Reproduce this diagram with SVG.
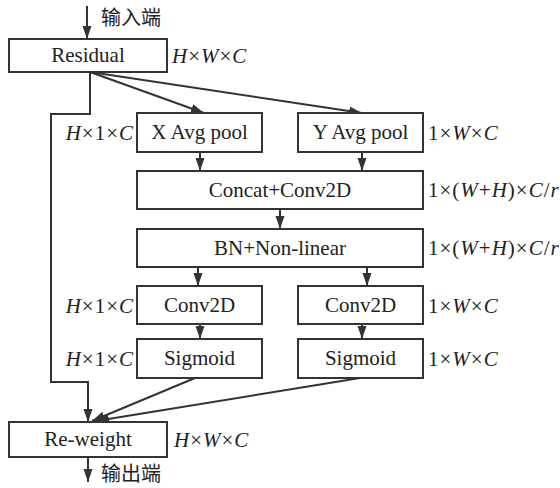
<svg xmlns="http://www.w3.org/2000/svg" width="560" height="488" viewBox="0 0 560 488">
<defs>
<marker id="ah" markerUnits="userSpaceOnUse" markerWidth="14" markerHeight="10" refX="13" refY="5" orient="auto">
<path d="M0,0.5 L13,5 L0,9.5 Z" fill="#333"/>
</marker>
<style>
.box{fill:#fff;stroke:#333;stroke-width:2}
.t{font-family:"Liberation Serif","Times New Roman",serif;font-size:21px;fill:#222}
.l{letter-spacing:1px}
.c{text-anchor:middle}
.e{text-anchor:end}
.i{font-style:italic}
.zh{font-family:"Noto Sans CJK SC","Noto Sans",sans-serif;font-size:20px;fill:#222}
.ln{fill:none;stroke:#333;stroke-width:2}
</style>
</defs>
<rect width="560" height="488" fill="#fff"/>
<g id="connectors">
<line class="ln" x1="87" y1="6" x2="87" y2="39" marker-end="url(#ah)"/>
<polyline class="ln" points="90,72 90,114 51,114 51,382 88,382 88,422" marker-end="url(#ah)"/>
<line class="ln" x1="90" y1="72" x2="204" y2="113" marker-end="url(#ah)"/>
<line class="ln" x1="90" y1="72" x2="362" y2="113" marker-end="url(#ah)"/>
<line class="ln" x1="200" y1="152" x2="200" y2="171" marker-end="url(#ah)"/>
<line class="ln" x1="362" y1="152" x2="362" y2="171" marker-end="url(#ah)"/>
<line class="ln" x1="280" y1="209" x2="280" y2="229" marker-end="url(#ah)"/>
<line class="ln" x1="198" y1="267" x2="198" y2="286" marker-end="url(#ah)"/>
<line class="ln" x1="367" y1="267" x2="367" y2="286" marker-end="url(#ah)"/>
<line class="ln" x1="200" y1="324" x2="200" y2="339" marker-end="url(#ah)"/>
<line class="ln" x1="362" y1="324" x2="362" y2="339" marker-end="url(#ah)"/>
<line class="ln" x1="195" y1="378" x2="92" y2="421" marker-end="url(#ah)"/>
<line class="ln" x1="360" y1="378" x2="96" y2="421" marker-end="url(#ah)"/>
<line class="ln" x1="88" y1="457" x2="88" y2="482" marker-end="url(#ah)"/>
</g>
<text class="zh" x="101" y="25">输入端</text>
<text class="zh" x="101" y="481">输出端</text>
<g id="residual">
<rect class="box" x="9" y="39" width="158" height="33"/>
<text class="t c" x="88" y="62">Residual</text>
<text class="t l" x="172" y="63"><tspan class="i">H</tspan>×<tspan class="i">W</tspan>×<tspan class="i">C</tspan></text>
</g>
<g id="xpool">
<rect class="box" x="137" y="113" width="125" height="39"/>
<text class="t c" x="199.5" y="139">X Avg pool</text>
<text class="t e l" x="134" y="140"><tspan class="i">H</tspan>×1×<tspan class="i">C</tspan></text>
</g>
<g id="ypool">
<rect class="box" x="298" y="113" width="125" height="39"/>
<text class="t c" x="360.5" y="139">Y Avg pool</text>
<text class="t l" x="428" y="140">1×<tspan class="i">W</tspan>×<tspan class="i">C</tspan></text>
</g>
<g id="concat">
<rect class="box" x="137" y="171" width="286" height="38"/>
<text class="t c" x="280" y="197">Concat+Conv2D</text>
<text class="t l" x="428" y="197">1×(<tspan class="i">W</tspan>+<tspan class="i">H</tspan>)×<tspan class="i">C</tspan>/<tspan class="i">r</tspan></text>
</g>
<g id="bn">
<rect class="box" x="137" y="229" width="286" height="38"/>
<text class="t c" x="280" y="255">BN+Non-linear</text>
<text class="t l" x="428" y="255">1×(<tspan class="i">W</tspan>+<tspan class="i">H</tspan>)×<tspan class="i">C</tspan>/<tspan class="i">r</tspan></text>
</g>
<g id="conv-left">
<rect class="box" x="137" y="286" width="125" height="38"/>
<text class="t c" x="199.5" y="312">Conv2D</text>
<text class="t e l" x="134" y="313"><tspan class="i">H</tspan>×1×<tspan class="i">C</tspan></text>
</g>
<g id="conv-right">
<rect class="box" x="298" y="286" width="125" height="38"/>
<text class="t c" x="360.5" y="312">Conv2D</text>
<text class="t l" x="428" y="313">1×<tspan class="i">W</tspan>×<tspan class="i">C</tspan></text>
</g>
<g id="sig-left">
<rect class="box" x="137" y="339" width="125" height="39"/>
<text class="t c" x="199.5" y="365">Sigmoid</text>
<text class="t e l" x="134" y="366"><tspan class="i">H</tspan>×1×<tspan class="i">C</tspan></text>
</g>
<g id="sig-right">
<rect class="box" x="298" y="339" width="125" height="39"/>
<text class="t c" x="360.5" y="365">Sigmoid</text>
<text class="t l" x="428" y="366">1×<tspan class="i">W</tspan>×<tspan class="i">C</tspan></text>
</g>
<g id="reweight">
<rect class="box" x="9" y="422" width="158" height="35"/>
<text class="t c" x="88" y="446">Re-weight</text>
<text class="t l" x="174" y="447"><tspan class="i">H</tspan>×<tspan class="i">W</tspan>×<tspan class="i">C</tspan></text>
</g>
</svg>
